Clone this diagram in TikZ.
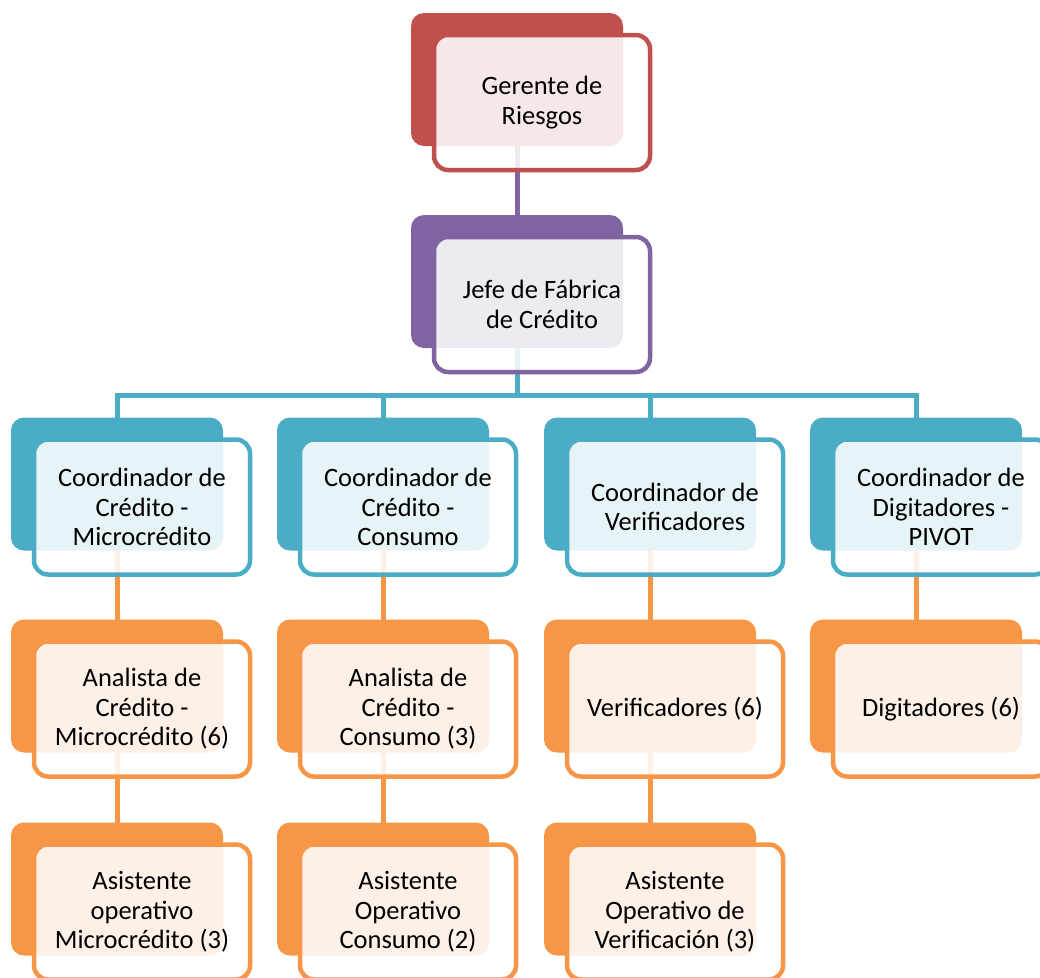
\documentclass[tikz,border=0pt]{standalone}
\usepackage{fontspec}
\setmainfont{Carlito}
\definecolor{redc}{HTML}{C0504D}
\definecolor{purc}{HTML}{8064A2}
\definecolor{bluc}{HTML}{4BACC6}
\definecolor{orac}{HTML}{F79646}
\pgfdeclarelayer{bg}
\pgfsetlayers{bg,main}
\tikzset{
  backbox/.style={rectangle, rounded corners=13pt, fill=#1, minimum width=212pt,
    minimum height=133pt, inner sep=0pt},
  frontbox/.style={rectangle, rounded corners=14pt, draw=#1, line width=4.5pt,
    fill=white, fill opacity=0.87, text opacity=1, minimum width=216pt,
    minimum height=135pt, inner sep=0pt, align=center,
    font=\fontsize{26.5}{29.5}\selectfont},
  link/.style={draw=#1, line width=5pt},
}
% one chart unit: solid back card and a translucent outlined card holding the text
\newcommand\orgunit[5]{%
  \node[backbox=#2] (#1-b) at ({#3-25},{#4-23}) {};
  \node[frontbox=#2] (#1) at (#3,#4) {#5};
}
\begin{document}
\begin{tikzpicture}[x=1pt,y=-1pt]
\useasboundingbox (0,0) rectangle (1040,977);
\clip (0,0) rectangle (1040,977);

\orgunit{g}{redc}{542}{102.5}{Gerente de\\Riesgos}
\orgunit{j}{purc}{542}{304.5}{Jefe de Fábrica\\de Crédito}

\orgunit{c1}{bluc}{142}{507}{Coordinador de\\Crédito -\\Microcrédito}
\orgunit{c2}{bluc}{408}{507}{Coordinador de\\Crédito -\\Consumo}
\orgunit{c3}{bluc}{675}{507}{Coordinador de\\Verificadores}
\orgunit{c4}{bluc}{941}{507}{Coordinador de\\Digitadores -\\PIVOT}

\orgunit{a1}{orac}{142}{709}{Analista de\\Crédito -\\Microcrédito (6)}
\orgunit{a2}{orac}{408}{709}{Analista de\\Crédito -\\Consumo (3)}
\orgunit{a3}{orac}{675}{709}{Verificadores (6)}
\orgunit{a4}{orac}{941}{709}{Digitadores (6)}

\orgunit{s1}{orac}{142}{912}{Asistente\\operativo\\Microcrédito (3)}
\orgunit{s2}{orac}{408}{912}{Asistente\\Operativo\\Consumo (2)}
\orgunit{s3}{orac}{675}{912}{Asistente\\Operativo de\\Verificación (3)}

\begin{pgfonlayer}{bg}
  \draw[link=purc] (g-b.center) -- (j-b.center);
  \coordinate (bus) at (0,395);
  \foreach \c in {c1,c2,c3,c4}
    \draw[link=bluc] (j-b.center) |- (bus -| \c-b.center) -- (\c-b.center);
  \foreach \n in {1,2,3}{
    \draw[link=orac] (c\n-b.center) -- (a\n-b.center);
    \draw[link=orac] (a\n-b.center) -- (s\n-b.center);
  }
  \draw[link=orac] (c4-b.center) -- (a4-b.center);
\end{pgfonlayer}
\end{tikzpicture}
\end{document}
